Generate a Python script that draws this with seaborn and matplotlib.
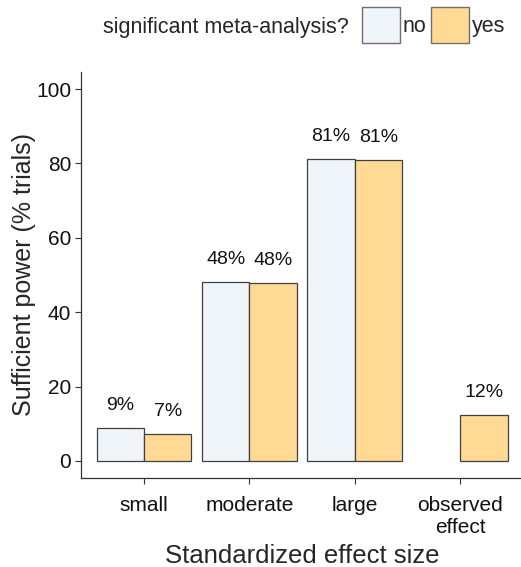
import numpy as np
import pandas as pd
import matplotlib
matplotlib.use("Agg")
import matplotlib.pyplot as plt
import seaborn as sns
from matplotlib.patches import Patch

# data
effect_sizes = ["small", "moderate", "large", "observed\neffect"]
power_no = [9, 48, 81, np.nan]
power_yes = [7, 48, 81, 12]
power_no_plot = [8.9, 48.1, 81.2, np.nan]
power_yes_plot = [7.3, 47.8, 80.9, 12.4]
groups = ["no", "yes"]
colors = {"no": "#F0F5FA", "yes": "#FFDA94"}

df = pd.DataFrame({
    "effect": effect_sizes * 2,
    "sig": ["no"] * 4 + ["yes"] * 4,
    "power": power_no_plot + power_yes_plot,
    "label": power_no + power_yes,
})

sns.set_style("white")
plt.rcParams["font.family"] = ["Liberation Sans", "DejaVu Sans"]

fig = plt.figure(figsize=(5.21, 5.67), dpi=100)
ax = fig.add_axes([0.155, 0.157, 0.85, 0.716])

sns.barplot(data=df, x="effect", y="power", hue="sig", hue_order=groups,
            order=effect_sizes, palette=colors, width=0.9, dodge=True, saturation=1,
            edgecolor="#404040", linewidth=0.9, legend=False, ax=ax)

# percentage labels above bars
for container, vals in zip(ax.containers, [power_no, power_yes]):
    for bar, v in zip(container, vals):
        if np.isnan(v):
            continue
        ax.text(bar.get_x() + bar.get_width() / 2, bar.get_height() + 3.8,
                f"{int(v)}%", ha="center", va="bottom", fontsize=14, color="#111111")

ax.set_ylim(-4.6, 104.6)
ax.set_xlim(-0.6, 3.6)
ax.set_yticks([0, 20, 40, 60, 80, 100])
ax.tick_params(axis="both", labelsize=15, length=4, width=0.8, colors="#333333",
               labelcolor="#111111", direction="out", bottom=True, left=True, pad=3)
ax.tick_params(axis="x", pad=9)
ax.set_xlabel("Standardized effect size", fontsize=18.5, labelpad=5)
ax.set_ylabel("Sufficient power (% trials)", fontsize=18, labelpad=0)
for s in ["top", "right"]:
    ax.spines[s].set_visible(False)
for s in ["left", "bottom"]:
    ax.spines[s].set_color("#333333")
    ax.spines[s].set_linewidth(0.9)

fig.text(0.197, 0.951, "significant meta-analysis?", fontsize=15.5, va="center", ha="left")
handles = [Patch(facecolor=colors[g], edgecolor="#707070", label=g) for g in groups]
fig.legend(handles=handles, loc="center left", bbox_to_anchor=(0.674, 0.956), ncol=2,
           frameon=False, fontsize=15.5, handlelength=1.75, handleheight=2.17,
           handletextpad=0.12, columnspacing=0.25, borderpad=0)

fig.savefig("out.png", dpi=100)
